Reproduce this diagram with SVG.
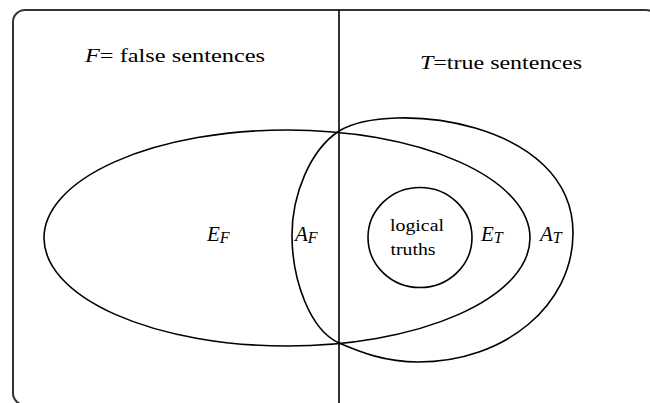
<svg xmlns="http://www.w3.org/2000/svg" width="650" height="403" viewBox="0 0 650 403">
<style>
.frame{fill:none;stroke:#333;stroke-width:2}
.ln{fill:none;stroke:#000;stroke-width:1.6}
.t{font-family:"Liberation Serif","Times New Roman",serif;fill:#000}
.it{font-style:italic}
</style>
<rect width="650" height="403" fill="#fff"/>
<g id="frame">
<rect class="frame" x="13" y="10" width="645" height="395" rx="12"/>
</g>
<g id="divider">
<line class="ln" x1="339" y1="10" x2="339" y2="403"/>
</g>
<g id="title-false">
<text class="t" x="85" y="62" font-size="19" textLength="180" lengthAdjust="spacingAndGlyphs"><tspan class="it">F</tspan>= false sentences</text>
</g>
<g id="title-true">
<text class="t" x="420" y="69" font-size="19" textLength="162" lengthAdjust="spacingAndGlyphs"><tspan class="it">T</tspan>=true sentences</text>
</g>
<g id="EF-region">
<ellipse class="ln" cx="287" cy="238" rx="243" ry="108"/>
</g>
<g id="AT-region">
<path class="ln" d="M292,235 C292,195 310,150 339,131 C390,100 573,120 573,233 C573,305 505,362 418,362 C385,362 360,352 339,343 C310,330 292,280 292,235 Z"/>
</g>
<g id="logical-truths">
<ellipse class="ln" cx="420" cy="237.5" rx="52" ry="50"/>
<text class="t" x="417" y="231" font-size="17" text-anchor="middle" textLength="54" lengthAdjust="spacingAndGlyphs">logical</text>
<text class="t" x="413" y="255" font-size="17" text-anchor="middle" textLength="45" lengthAdjust="spacingAndGlyphs">truths</text>
</g>
<g id="labels">
<text class="t it" x="207" y="241" font-size="21">E<tspan font-size="16" dy="2">F</tspan></text>
<text class="t it" x="295" y="241" font-size="21">A<tspan font-size="16" dy="2">F</tspan></text>
<text class="t it" x="481" y="241" font-size="21">E<tspan font-size="16" dy="2">T</tspan></text>
<text class="t it" x="540" y="241" font-size="21">A<tspan font-size="16" dy="2">T</tspan></text>
</g>
</svg>
